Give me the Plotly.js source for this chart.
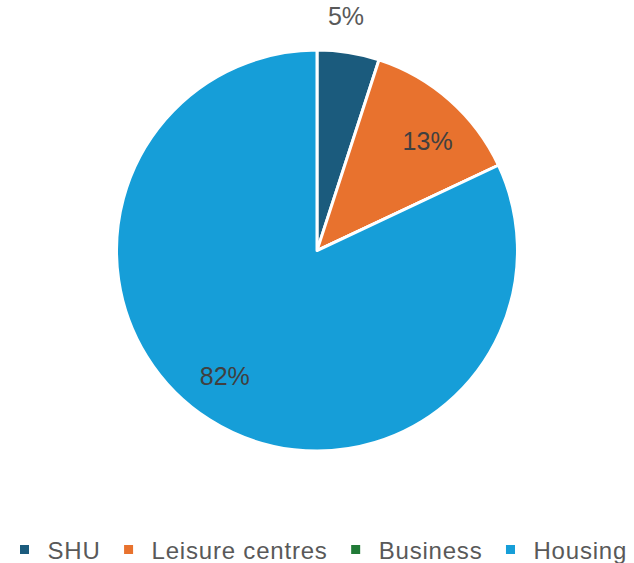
<!DOCTYPE html>
<html>
<head>
<meta charset="utf-8">
<script src="https://cdn.plot.ly/plotly-3.0.1.min.js"></script>
<style>
  html, body { margin: 0; padding: 0; background: #fff; }
  #chart { width: 634px; height: 563px; }
  .legendtext { letter-spacing: 0.8px; }
</style>
</head>
<body>
<div id="chart"></div>
<script>
// Slice data
const labels = ['SHU', 'Leisure centres', 'Business', 'Housing'];
const values = [5, 13, 0, 82];
const colors = ['#1b5b7d', '#e8722e', '#217a37', '#169ed8'];
const insidePositions = ['none', 'inside', 'none', 'inside'];
const outsidePositions = ['outside', 'none', 'none', 'none'];

const pieDomain = { x: [0, 1], y: [0.058, 0.955] };
const outerDomain = { x: [0, 1], y: [0, 1] };

const labelFont = 'Liberation Sans, Arial, sans-serif';
const clear = labels.map(() => 'rgba(0,0,0,0)');

// Visible slices, legend comes from this one
const mainTrace = {
    type: 'pie',
    labels: labels,
    values: values,
    sort: false,
    direction: 'clockwise',
    rotation: 0,
    marker: {
        colors: colors,
        line: { color: '#ffffff', width: 3 }
    },
    textinfo: 'none',
    hoverinfo: 'label+percent',
    domain: pieDomain
};

// Transparent donut on top only to push the labels out towards the rim
const labelTrace = {
    type: 'pie',
    labels: labels,
    values: values,
    sort: false,
    direction: 'clockwise',
    rotation: 4,
    hole: 0.55,
    showlegend: false,
    hoverinfo: 'skip',
    marker: { colors: clear, line: { width: 0 } },
    texttemplate: '%{percent:.0%}',
    textposition: insidePositions,
    insidetextorientation: 'horizontal',
    textfont: { family: labelFont, size: 25, color: '#404040' },
    domain: pieDomain
};

// Small SHU slice gets its label above the rim
const outerLabelTrace = {
    type: 'pie',
    labels: labels,
    values: values,
    sort: false,
    direction: 'clockwise',
    rotation: -8,
    showlegend: false,
    hoverinfo: 'skip',
    marker: { colors: clear, line: { width: 0 } },
    texttemplate: '%{percent:.0%}',
    textposition: outsidePositions,
    outsidetextfont: { family: labelFont, size: 25, color: '#595959' },
    domain: outerDomain
};

const layout = {
    width: 634,
    height: 563,
    margin: { t: 30, b: 86, l: 0, r: 0, autoexpand: false },
    paper_bgcolor: '#ffffff',
    showlegend: true,
    legend: {
        orientation: 'h',
        x: 0.5,
        xanchor: 'center',
        y: -0.163,
        yanchor: 'middle',
        itemwidth: 36,
        font: { family: labelFont, size: 24, color: '#595959' }
    }
};

Plotly.newPlot('chart', [mainTrace, labelTrace, outerLabelTrace], layout, { displayModeBar: false });
</script>
</body>
</html>
